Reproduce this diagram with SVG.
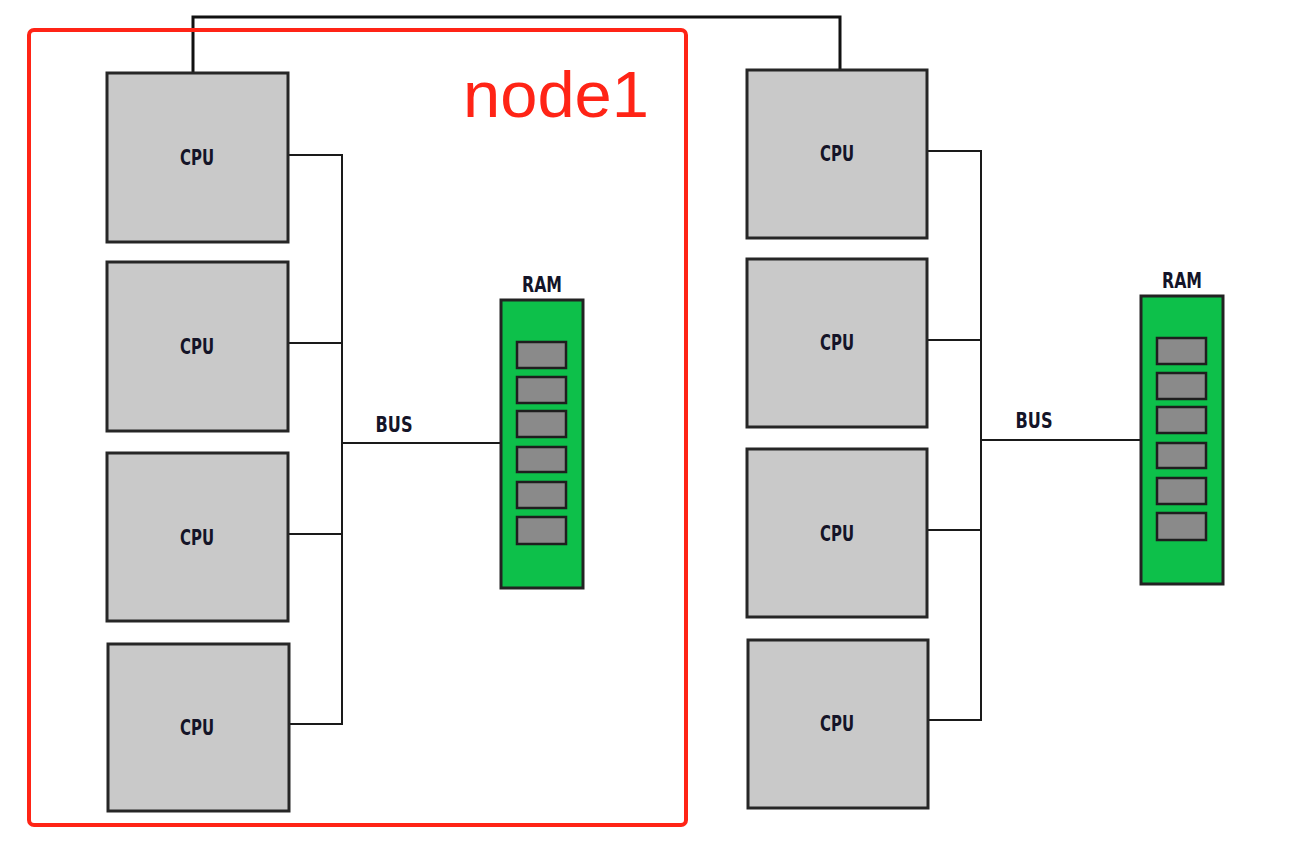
<svg xmlns="http://www.w3.org/2000/svg" width="1289" height="853" viewBox="0 0 1289 853">
<style>
.cpu{fill:#c9c9c9;stroke:#262626;stroke-width:3}
.ram{fill:#0dc04a;stroke:#222;stroke-width:3}
.slot{fill:#8a8a8a;stroke:#1e1e1e;stroke-width:2.5}
.lbl{font-family:"DejaVu Sans Condensed","Liberation Sans",sans-serif;font-weight:bold;font-size:22px;fill:#141428;text-anchor:middle}
.wire{fill:none;stroke:#1a1a1a;stroke-width:2}
.link{fill:none;stroke:#111;stroke-width:3}
</style>
<defs>
<g id="ramslots">
<rect class="slot" x="16" y="42" width="49" height="26"/>
<rect class="slot" x="16" y="77" width="49" height="26"/>
<rect class="slot" x="16" y="111" width="49" height="26"/>
<rect class="slot" x="16" y="147" width="49" height="25"/>
<rect class="slot" x="16" y="182" width="49" height="26"/>
<rect class="slot" x="16" y="217" width="49" height="27"/>
</g>
</defs>
<rect width="1289" height="853" fill="#fff"/>
<g id="connectors">
<polyline class="link" points="193,73 193,17 840,17 840,70"/>
<polyline class="wire" points="288,155 342,155 342,724 288,724"/>
<line class="wire" x1="288" y1="343" x2="342" y2="343"/>
<line class="wire" x1="288" y1="534" x2="342" y2="534"/>
<line class="wire" x1="342" y1="443" x2="501" y2="443"/>
<polyline class="wire" points="927,151 981,151 981,720 927,720"/>
<line class="wire" x1="927" y1="340" x2="981" y2="340"/>
<line class="wire" x1="927" y1="530" x2="981" y2="530"/>
<line class="wire" x1="981" y1="440" x2="1141" y2="440"/>
</g>
<g id="node1-frame">
<rect x="29" y="30" width="657" height="795" rx="5" fill="none" stroke="#ff2416" stroke-width="4"/>
<text x="463" y="117" font-family="'Liberation Sans',Arial,sans-serif" font-size="64" fill="#ff2416" textLength="186" lengthAdjust="spacingAndGlyphs">node1</text>
</g>
<g id="n1-cpu1"><rect class="cpu" x="107" y="73" width="181" height="169"/><text class="lbl" x="197" y="165" textLength="34" lengthAdjust="spacingAndGlyphs">CPU</text></g>
<g id="n1-cpu2"><rect class="cpu" x="107" y="262" width="181" height="169"/><text class="lbl" x="197" y="354" textLength="34" lengthAdjust="spacingAndGlyphs">CPU</text></g>
<g id="n1-cpu3"><rect class="cpu" x="107" y="453" width="181" height="168"/><text class="lbl" x="197" y="545" textLength="34" lengthAdjust="spacingAndGlyphs">CPU</text></g>
<g id="n1-cpu4"><rect class="cpu" x="108" y="644" width="181" height="167"/><text class="lbl" x="197" y="735" textLength="34" lengthAdjust="spacingAndGlyphs">CPU</text></g>
<g id="n1-bus"><text class="lbl" x="394" y="432" textLength="37" lengthAdjust="spacingAndGlyphs">BUS</text></g>
<g id="n1-ram"><text class="lbl" x="542" y="292" textLength="40" lengthAdjust="spacingAndGlyphs">RAM</text><rect class="ram" x="501" y="300" width="82" height="288"/><use href="#ramslots" x="501" y="300"/></g>
<g id="n2-cpu1"><rect class="cpu" x="747" y="70" width="180" height="168"/><text class="lbl" x="837" y="161" textLength="34" lengthAdjust="spacingAndGlyphs">CPU</text></g>
<g id="n2-cpu2"><rect class="cpu" x="747" y="259" width="180" height="168"/><text class="lbl" x="837" y="350" textLength="34" lengthAdjust="spacingAndGlyphs">CPU</text></g>
<g id="n2-cpu3"><rect class="cpu" x="747" y="449" width="180" height="168"/><text class="lbl" x="837" y="541" textLength="34" lengthAdjust="spacingAndGlyphs">CPU</text></g>
<g id="n2-cpu4"><rect class="cpu" x="748" y="640" width="180" height="168"/><text class="lbl" x="837" y="731" textLength="34" lengthAdjust="spacingAndGlyphs">CPU</text></g>
<g id="n2-bus"><text class="lbl" x="1034" y="428" textLength="37" lengthAdjust="spacingAndGlyphs">BUS</text></g>
<g id="n2-ram"><text class="lbl" x="1182" y="288" textLength="40" lengthAdjust="spacingAndGlyphs">RAM</text><rect class="ram" x="1141" y="296" width="82" height="288"/><use href="#ramslots" x="1141" y="296"/></g>
</svg>
